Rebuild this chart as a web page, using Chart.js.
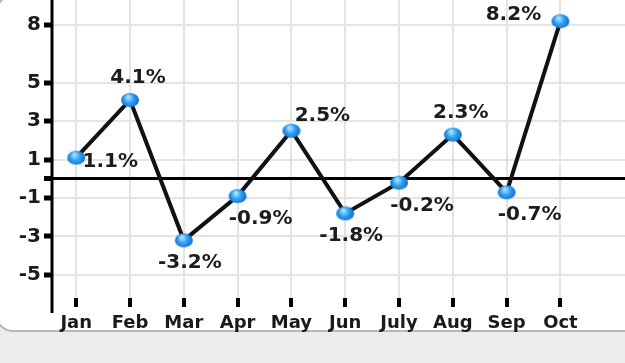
<!DOCTYPE html>
<html>
<head>
<meta charset="utf-8">
<script src="https://cdn.jsdelivr.net/npm/chart.js@4.4.1/dist/chart.umd.min.js"></script>
<style>
  html, body { margin: 0; padding: 0; }
  body { width: 625px; height: 363px; background: #ececec; position: relative; overflow: hidden; }
  .card { position: absolute; left: -5px; top: -5px; width: 660px; height: 337px; background: #fff; border: 2px solid #b8b8b8; border-radius: 18px; box-sizing: border-box; }
  canvas { position: absolute; left: 0; top: 0; }
</style>
</head>
<body>
<div class="card"></div>
<canvas id="myChart" width="625" height="363"></canvas>
<script>
let months = ['Jan', 'Feb', 'Mar', 'Apr', 'May', 'Jun', 'July', 'Aug', 'Sep', 'Oct']
let growth = [1.1, 4.1, -3.2, -0.9, 2.5, -1.8, -0.2, 2.3, -0.7, 8.2]
let yTicks = [8, 5, 3, 1, 0, -1, -3, -5]
let labelSide = ['rightLow', 'above', 'below', 'belowRight', 'right', 'below', 'belowRight', 'above', 'belowRight', 'left']

Chart.defaults.font.family = '"DejaVu Sans", sans-serif'

// glossy blue dot used as the point marker
const makeDot = () => {
  let c = document.createElement('canvas')
  c.width = 20
  c.height = 16
  let g = c.getContext('2d')
  let grad = g.createRadialGradient(8, 5, 1, 10, 8, 10)
  grad.addColorStop(0, '#a6e0ff')
  grad.addColorStop(0.45, '#2b9df1')
  grad.addColorStop(1, '#0b62c8')
  g.fillStyle = grad
  g.beginPath()
  g.ellipse(10, 8, 9, 7, 0, 0, Math.PI * 2)
  g.fill()
  return c
}

const sideOffset = {
  above: [8, -22],
  below: [6, 22],
  rightLow: [34, 4],
  belowRight: [23, 23],
  right: [31, -15],
  left: [-47, -6],
}

const pointLabels = {
  id: 'pointLabels',
  afterDatasetsDraw(chart) {
    let ctx = chart.ctx
    let meta = chart.getDatasetMeta(0)
    ctx.save()
    ctx.font = 'bold 20px "DejaVu Sans"'
    ctx.fillStyle = '#1c1c1c'
    ctx.textAlign = 'center'
    ctx.textBaseline = 'middle'
    meta.data.forEach((pt, i) => {
      let off = sideOffset[labelSide[i]]
      ctx.fillText(growth[i].toFixed(1) + '%', pt.x + off[0], pt.y + off[1])
    })
    ctx.restore()
  },
}

// y axis line, running a little past the plot bottom
const yAxisLine = {
  id: 'yAxisLine',
  afterDraw(chart) {
    let { ctx, chartArea } = chart
    ctx.save()
    ctx.strokeStyle = '#000'
    ctx.lineWidth = 3
    ctx.beginPath()
    ctx.moveTo(chartArea.left, 0)
    ctx.lineTo(chartArea.left, chartArea.bottom + 15)
    ctx.stroke()
    ctx.restore()
  },
}

const isZero = (ctx) => ctx.tick && ctx.tick.value === 0

const config = {
  type: 'line',
  data: {
    datasets: [
      {
        data: growth.map((v, i) => ({ x: i, y: v })),
        borderColor: '#111',
        borderWidth: 4,
        pointStyle: makeDot(),
        pointRadius: 8,
        tension: 0,
        clip: false,
      },
    ],
  },
  options: {
    responsive: false,
    animation: false,
    layout: { padding: 0, autoPadding: false },
    plugins: {
      legend: { display: false },
      tooltip: { enabled: false },
    },
    scales: {
      x: {
        type: 'linear',
        min: -0.45,
        max: 10.2,
        afterBuildTicks: (axis) => {
          axis.ticks = months.map((m, i) => ({ value: i }))
        },
        afterFit: (axis) => {
          axis.height = 65
          axis.paddingLeft = 0
          axis.paddingRight = 0
        },
        ticks: {
          callback: (v) => months[v],
          font: { size: 18, weight: 'bold' },
          color: '#1a1a1a',
          padding: 6,
          maxRotation: 0,
          autoSkip: false,
        },
        grid: {
          color: '#e4e4e4',
          lineWidth: 2,
          tickColor: '#000',
          tickWidth: 4,
          tickLength: 9,
        },
        border: { display: false },
      },
      y: {
        type: 'linear',
        min: -6.2,
        max: 9.3,
        afterBuildTicks: (axis) => {
          axis.ticks = yTicks.map((v) => ({ value: v }))
        },
        afterFit: (axis) => {
          axis.width = 52
          axis.paddingTop = 0
          axis.paddingBottom = 0
        },
        ticks: {
          callback: (v) => (v === 0 ? '' : v),
          font: { size: 20, weight: 'bold' },
          color: '#1a1a1a',
          padding: 3,
        },
        grid: {
          color: (ctx) => (isZero(ctx) ? '#000' : '#e4e4e4'),
          lineWidth: (ctx) => (isZero(ctx) ? 3 : 2),
          tickColor: '#000',
          tickWidth: 5,
          tickLength: 8,
        },
        border: { display: false },
      },
    },
  },
  plugins: [pointLabels, yAxisLine],
}

var myChart = new Chart(document.getElementById('myChart'), config)
</script>
</body>
</html>
